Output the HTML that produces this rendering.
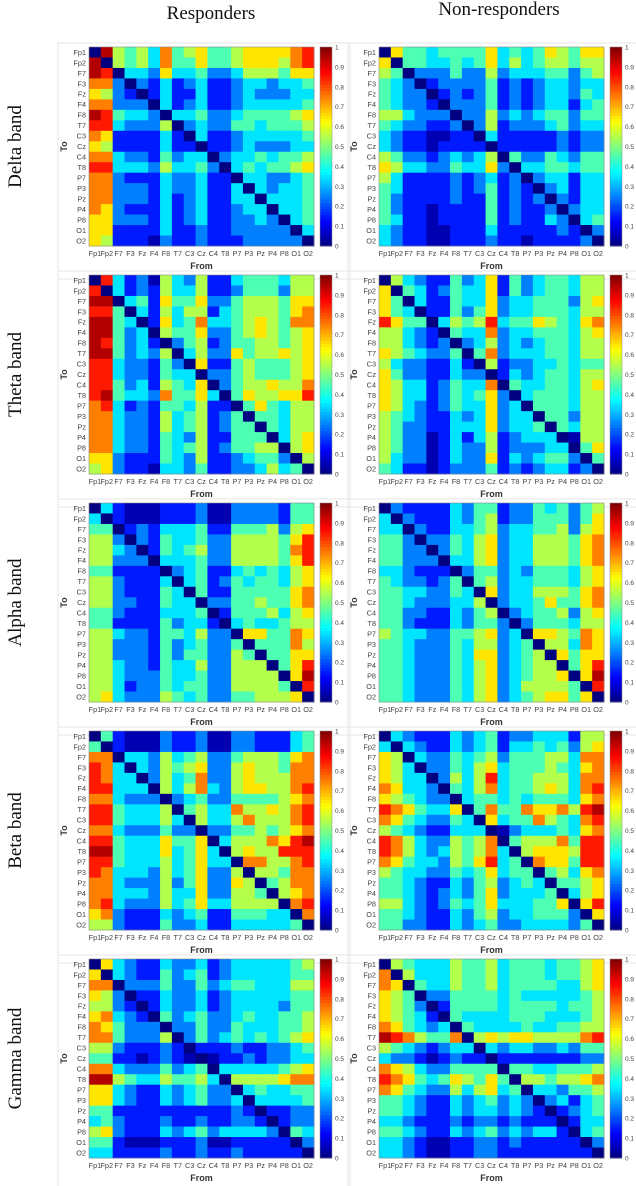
<!DOCTYPE html>
<html><head><meta charset="utf-8">
<style>
html,body{margin:0;padding:0;background:#fff;}
body{width:636px;height:1186px;overflow:hidden;}
svg{display:block;}
</style></head>
<body>
<svg id="fig" width="636" height="1186" viewBox="0 0 636 1186" xmlns="http://www.w3.org/2000/svg">
<text x="211" y="19" font-family="Liberation Serif, serif" font-size="19" text-anchor="middle" fill="#111">Responders</text>
<text x="499" y="15" font-family="Liberation Serif, serif" font-size="19" text-anchor="middle" fill="#111">Non-responders</text>
</svg>
<script>
const channels = ["Fp1","Fp2","F7","F3","Fz","F4","F8","T7","C3","Cz","C4","T8","P7","P3","Pz","P4","P8","O1","O2"];
const bands = ["Delta band","Theta band","Alpha band","Beta band","Gamma band"];
const cbTicks = ["0","0.1","0.2","0.3","0.4","0.5","0.6","0.7","0.8","0.9","1"];

const deltaResp = ["0954537456445666678","9054537446445666578","9803326334223555466","7720213123112332334","6521013113112322233","7722203123112333334","9843320334223444456","8832225023224434445","7611113103112333334","6511113110112322233","7732214233023343445","8833325334203434456","7721113223110332234","7722213223113032334","7722213123113303334","7621113123112330334","6622213123112232034","6611113112112222203","6511102112111222220"];
const deltaNon = ["0644344446343465466","6044334346353455455","5402224225233344245","4320122224121233233","4322012124121233243","4322102224121233134","5532220225232344244","4322112025122234233","3211001103111112122","3211011110111112122","5422123235042243244","6533224336203344344","5311112123120233133","4311112124121023133","4211112114121202133","4211011114121120233","4311011114121132034","3211001113111112102","3211001112110111120"];
const thetaResp = ["0831205325113444355","8031215335112444255","9903416446224555466","8840315355134555467","9943016347334565477","9942305446224565456","9842310245124455456","9942325035226455656","8832214206114544456","8832214330224544456","8842315436024556557","8943327446304655668","7831214435110464355","7732215345124044355","7732215345124404355","7732214325114440356","7732214345124455056","6621114325112344205","5621103324112235340"];
const thetaNon = ["0532114236142344355","6043124336142344355","6403114336233444256","6430114246233444355","8644035458344654367","5532104337233444356","5532120235232344355","6543224047233344355","5322113105122334344","6422113220132344355","6533124337043344356","6533124346203444355","6532124336230444355","5432113236233044255","5422113336233404355","5422013135123333055","5422013225122233046","5322013226132344204","4311012224121233120"];
const alphaResp = ["0310001112002222144","3010001112002222144","4401213334114445256","5520214334225555468","5532014345225555478","5522203334225555468","4411110234113434356","5521113034124344356","5521114304114444467","5522114330224454467","4421113334014445356","4411114233103433455","5532214435220664476","5522214234224044475","5522214244225404466","5532214335225550468","5532224334225555069","5531224344225555408","5632225434224455560"];
const alphaNon = ["0211113244122434245","3021113245122444246","3302113345233445256","4420224356233555467","4422024356233555467","4422203356233555467","3321110244232444356","4322124045233444356","4433224306233555467","4432223350233464467","4422113245023445256","4421113244202444355","5433224456230665476","4432224355234055376","4432224366234506466","4432224356234550468","4432224356234556069","4432224356235555408","4432224356234566460"];
const betaResp = ["0410002112002211134","4010002112002211134","7703325345224555467","8730325456225655477","8733025347225655577","8833305357325665578","7732220234224444567","8843335045337556578","8843335305335755578","7732224220224454567","8843336446035557689","9943336346305655888","8843335346330775578","8733325346225055477","7732225246226504577","7733325336225540567","7832225346335555078","6721113234114443307","5521114223113333340"];
const betaNon = ["0321113234122333155","3032113234133434256","6503224345244455377","6530224356344454367","6533025358344555377","7633204357344565378","6543220344343444367","8764336047447667589","7643224306344754378","5432113334023334367","8753225457045557488","8753235457305666588","7643325468340766488","5433224346344045367","4432113245234304456","4432123246233340356","5532124346333446068","4432113245233444206","4422113234223333240"];
const gammaResp = ["0632113223123333345","6032114234123333344","7702224224234433355","6520113223123333344","5521013223123333244","6732104234223433445","7642220224224333445","7742225024234343456","5521112101112112234","4411012100011212233","7732224234033333456","9954335445305555677","6632113234220343344","6632113234223033334","4411111111112101122","3421112112112210122","5621113234233332043","4410001112001111102","3311112112112111110"];
const gammaNon = ["0543335445344434456","7053335445344434456","7604335445344443356","6540224444343333345","6542014444344443445","6543104333344433345","7643230433334334455","9875447056566555578","5432123303233223244","3221012110111111122","7653224444044334445","8764346546405545567","7643225356340332445","4432113234232023134","4432113233232101234","3321112122121110133","4432113234232331034","3321001122121111102","3321001122111111110"];

const panels = [
  ["delta", deltaResp, deltaNon],
  ["theta", thetaResp, thetaNon],
  ["alpha", alphaResp, alphaNon],
  ["beta", betaResp, betaNon],
  ["gamma", gammaResp, gammaNon]
];

const NS = "http://www.w3.org/2000/svg";
const svg = document.getElementById("fig");
const HM_W = 225, HM_H = 199, N = channels.length;
const cw = HM_W / N, ch = HM_H / N;
function cl(v){return Math.max(0,Math.min(1,v));}
function jet(v){
  const r=cl(1.5-Math.abs(4*v-3)), g=cl(1.5-Math.abs(4*v-2)), b=cl(1.5-Math.abs(4*v-1));
  return "rgb("+Math.round(r*255)+","+Math.round(g*255)+","+Math.round(b*255)+")";
}
function valueOf(d,diag){const n=+d; return diag?0:n/10+0.05;}
function mk(tag, attrs, parent){
  const e=document.createElementNS(NS,tag);
  for(const k in attrs) e.setAttribute(k,attrs[k]);
  (parent||svg).appendChild(e);
  return e;
}
function xScale(x0,i){return x0+i*cw;}
function yScale(y0,j){return y0+j*ch;}

function drawHeatmap(x0,y0,matrix,key){
  const g=mk("g",{});
  
  
  const fr=mk("rect",{x:x0-31,y:y0-4,width:292,height:HM_H+37,fill:"none",stroke:"#e6e6e6","stroke-width":1},g);
  
  
  for(let r=0;r<N;r++){
    for(let c=0;c<N;c++){
      const v=valueOf(matrix[r][c], r===c);
      const cell=mk("rect",{x:xScale(x0,c).toFixed(2),y:yScale(y0,r).toFixed(2),width:(cw+0.4).toFixed(2),height:(ch+0.4).toFixed(2),fill:jet(v)},g);
      
      
    }
  }
  mk("rect",{x:x0,y:y0,width:HM_W,height:HM_H,fill:"none",stroke:"#888","stroke-width":0.6},g);
  for(let i=0;i<N;i++){
    const yl=mk("text",{x:x0-3,y:(yScale(y0,i)+ch/2+2.6).toFixed(2),"text-anchor":"end","font-family":"Liberation Sans, sans-serif","font-size":"7.3",fill:"#444"},g);
    yl.textContent=channels[i];
    
    
    const xl=mk("text",{x:(xScale(x0,i)+cw/2).toFixed(2),y:y0+HM_H+10,"text-anchor":"middle","font-family":"Liberation Sans, sans-serif","font-size":"7.3",fill:"#444"},g);
    xl.textContent=channels[i];
    
    
  }
  const from=mk("text",{x:x0+HM_W/2,y:y0+HM_H+23,"text-anchor":"middle","font-family":"Liberation Sans, sans-serif","font-size":"9","font-weight":"bold",fill:"#333"},g);
  from.textContent="From";
  
  
  const to=mk("text",{x:x0-22,y:y0+HM_H/2,"text-anchor":"middle","font-family":"Liberation Sans, sans-serif","font-size":"9","font-weight":"bold",fill:"#333",transform:"rotate(-90 "+(x0-22)+" "+(y0+HM_H/2)+")"},g);
  to.textContent="To";
  
  
  const cbx=x0+231, cbw=12;
  const cb=mk("g",{},g);
  
  
  const steps=64;
  for(let s=0;s<steps;s++){
    mk("rect",{x:cbx,y:(y0+HM_H-(s+1)*HM_H/steps).toFixed(2),width:cbw,height:(HM_H/steps+0.5).toFixed(2),fill:jet((s+0.5)/steps)},cb);
  }
  mk("rect",{x:cbx,y:y0,width:cbw,height:HM_H,fill:"none",stroke:"#888","stroke-width":0.5},cb);
  for(let t=0;t<cbTicks.length;t++){
    const ty=y0+HM_H-(+cbTicks[t])*HM_H;
    const tl=mk("text",{x:cbx+cbw+3,y:(ty+2.5).toFixed(2),"font-family":"Liberation Sans, sans-serif","font-size":"6.5",fill:"#444"},cb);
    tl.textContent=cbTicks[t];
    
    
  }
}

for(let p=0;p<panels.length;p++){
  const y0=47+228*p;
  const bl=mk("text",{x:21,y:y0+HM_H/2,"text-anchor":"middle","font-family":"Liberation Serif, serif","font-size":"19",fill:"#111",transform:"rotate(-90 21 "+(y0+HM_H/2)+")"});
  bl.textContent=bands[p];
  
  
  drawHeatmap(89,y0,panels[p][1],panels[p][0]+"-responders");
  drawHeatmap(379,y0,panels[p][2],panels[p][0]+"-non-responders");
}
</script>
</body></html>
